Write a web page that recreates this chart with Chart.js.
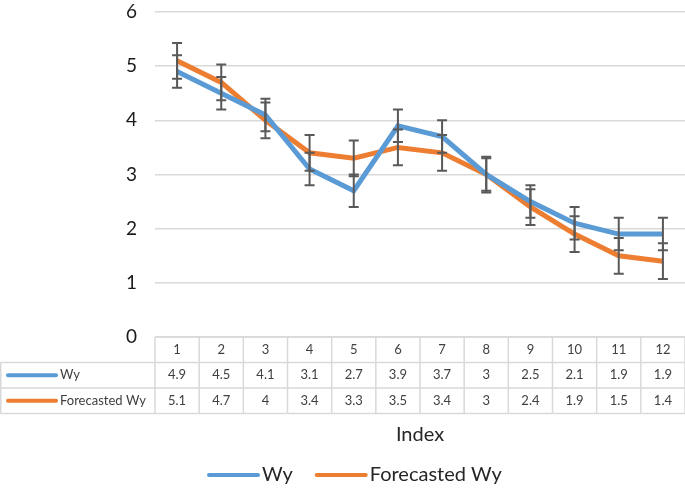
<!DOCTYPE html>
<html>
<head>
<meta charset="utf-8">
<script src="https://cdn.jsdelivr.net/npm/chart.js@4.4.0/dist/chart.umd.min.js"></script>
<style>
  html, body { margin: 0; padding: 0; background: #fff; }
  #wrap { width: 685px; height: 489px; }
</style>
</head>
<body>
<div id="wrap"><canvas id="myChart" width="685" height="489"></canvas></div>
<script>
const labels = ['1', '2', '3', '4', '5', '6', '7', '8', '9', '10', '11', '12']
const wy = [4.9, 4.5, 4.1, 3.1, 2.7, 3.9, 3.7, 3, 2.5, 2.1, 1.9, 1.9]
const forecastedWy = [5.1, 4.7, 4, 3.4, 3.3, 3.5, 3.4, 3, 2.4, 1.9, 1.5, 1.4]
const wyErr = [0.3, 0.3, 0.3, 0.3, 0.3, 0.3, 0.3, 0.3, 0.3, 0.3, 0.3, 0.3]
const forecastedErr = [0.33, 0.33, 0.33, 0.33, 0.33, 0.33, 0.33, 0.33, 0.33, 0.33, 0.33, 0.33]
const yTicks = [0, 1, 2, 3, 4, 5, 6]

const blueColor = '#5b9bd5'
const orangeColor = '#ed7d31'
const gridColor = '#d9d9d9'
const textColor = '#404040'
const fontName = 'Lato, "Open Sans", sans-serif'

// error bars drawn on top of the lines
const errorBars = {
  id: 'errorBars',
  afterDatasetsDraw(chart) {
    var ctx = chart.ctx
    var x = chart.scales.x
    var y = chart.scales.y
    var errs = [wyErr, forecastedErr]
    ctx.save()
    ctx.strokeStyle = '#595959'
    ctx.lineWidth = 2
    chart.data.datasets.forEach(function (ds, d) {
      ds.data.forEach(function (v, i) {
        var px = x.getPixelForValue(i)
        var top = y.getPixelForValue(v + errs[d][i])
        var bot = y.getPixelForValue(v - errs[d][i])
        ctx.beginPath()
        ctx.moveTo(px, top); ctx.lineTo(px, bot)
        ctx.moveTo(px - 5, top); ctx.lineTo(px + 5, top)
        ctx.moveTo(px - 5, bot); ctx.lineTo(px + 5, bot)
        ctx.stroke()
      })
    })
    ctx.restore()
  }
}

// data table, axis title and legend under the plot
const dataTable = {
  id: 'dataTable',
  afterDraw(chart) {
    var ctx = chart.ctx
    var x = chart.scales.x
    var area = chart.chartArea
    var colW = (area.right - area.left) / labels.length
    var rowTop = area.bottom
    var rowH = 25.5
    var series = [
      { name: 'Wy', data: wy, color: blueColor },
      { name: 'Forecasted Wy', data: forecastedWy, color: orangeColor }
    ]
    ctx.save()
    ctx.strokeStyle = gridColor
    ctx.lineWidth = 1.5
    ctx.beginPath()
    // horizontal lines
    ctx.moveTo(area.left, rowTop); ctx.lineTo(area.right, rowTop)
    for (var r = 1; r <= 3; r++) {
      ctx.moveTo(0, rowTop + r * rowH); ctx.lineTo(area.right, rowTop + r * rowH)
    }
    // vertical lines
    for (var c = 0; c <= labels.length; c++) {
      var vx = area.left + c * colW
      ctx.moveTo(vx, rowTop); ctx.lineTo(vx, rowTop + 3 * rowH)
    }
    ctx.moveTo(0.75, rowTop + rowH); ctx.lineTo(0.75, rowTop + 3 * rowH)
    ctx.stroke()

    ctx.fillStyle = textColor
    ctx.font = '13px ' + fontName
    ctx.textAlign = 'center'
    ctx.textBaseline = 'middle'
    labels.forEach(function (l, i) {
      ctx.fillText(l, x.getPixelForValue(i), rowTop + rowH / 2)
    })
    series.forEach(function (s, r) {
      var cy = rowTop + (r + 1.5) * rowH
      s.data.forEach(function (v, i) {
        ctx.fillText(String(v), x.getPixelForValue(i), cy)
      })
      ctx.strokeStyle = s.color
      ctx.lineWidth = 4
      ctx.lineCap = 'round'
      ctx.beginPath()
      ctx.moveTo(8, cy); ctx.lineTo(56, cy)
      ctx.stroke()
      ctx.textAlign = 'left'
      ctx.fillText(s.name, 60, cy)
      ctx.textAlign = 'center'
    })

    // axis title
    ctx.fillStyle = '#262626'
    ctx.font = '20px ' + fontName
    ctx.fillText('Index', (area.left + area.right) / 2, 435)

    // legend
    var ly = 475
    var lx = 209
    ctx.textAlign = 'left'
    series.forEach(function (s) {
      ctx.strokeStyle = s.color
      ctx.lineWidth = 4
      ctx.lineCap = 'round'
      ctx.beginPath()
      ctx.moveTo(lx, ly); ctx.lineTo(lx + 49, ly)
      ctx.stroke()
      ctx.fillText(s.name, lx + 53, ly)
      lx += 53 + ctx.measureText(s.name).width + 24
    })
    ctx.restore()
  }
}

var ctx = document.getElementById('myChart')
var lineChart = new Chart(ctx, {
  type: 'line',
  data: {
    labels: labels,
    datasets: [{
      label: 'Wy',
      data: wy,
      borderColor: blueColor,
      backgroundColor: blueColor,
      borderWidth: 5,
      pointRadius: 0,
      tension: 0
    }, {
      label: 'Forecasted Wy',
      data: forecastedWy,
      borderColor: orangeColor,
      backgroundColor: orangeColor,
      borderWidth: 5,
      pointRadius: 0,
      tension: 0
    }]
  },
  options: {
    responsive: false,
    animation: false,
    layout: { padding: { top: 12, bottom: 152, left: 0, right: 0 } },
    plugins: {
      legend: { display: false },
      tooltip: { enabled: false }
    },
    scales: {
      x: {
        type: 'category',
        offset: true,
        display: false
      },
      y: {
        min: 0,
        max: 6,
        afterFit: function (scale) {
          scale.width = 155
          scale.paddingTop = 0
          scale.paddingBottom = 0
        },
        afterBuildTicks: function (scale) {
          scale.ticks = yTicks.map(function (v) { return { value: v } })
        },
        border: { display: false },
        grid: { color: gridColor, lineWidth: 1.5, drawTicks: false },
        ticks: {
          color: '#1a1a1a',
          font: { family: fontName, size: 19 },
          padding: 18
        }
      }
    }
  },
  plugins: [errorBars, dataTable]
})
</script>
</body>
</html>
